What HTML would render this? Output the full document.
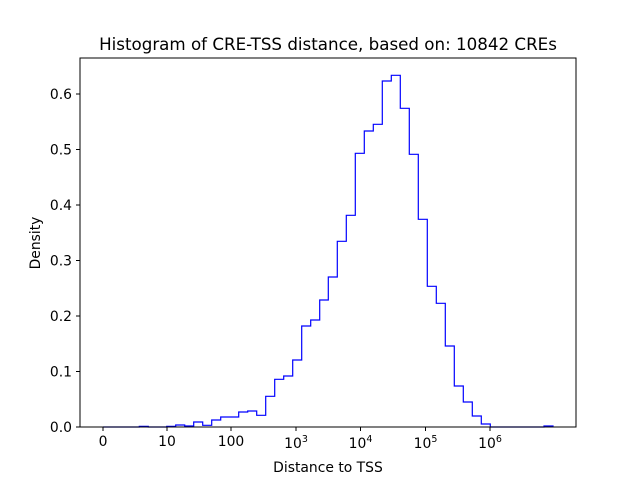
<!DOCTYPE html>
<html><head><meta charset="utf-8"><style>body{margin:0;background:#fff}</style></head><body>
<svg width="640" height="480" xmlns="http://www.w3.org/2000/svg" font-family="DejaVu Sans, Liberation Sans, sans-serif" font-size="13.9">
<rect width="640" height="480" fill="#fff"/>
<path fill="none" stroke="#0000ff" stroke-width="1.2" d="M103,427 H139.3 V426.3 H148.3 V427 H166.7 V426.3 H175.7 V425 H184.7 V426 H193.7 V422 H202.7 V425.3 H211.7 V420 H220.7 V417 H238.7 V412 H247.7 V411 H256.7 V415.3 H265.7 V396.3 H274.7 V379.3 H283.7 V376 H292.7 V360 H301.7 V326 H310.7 V320 H319.7 V300 H328.3 V277 H337.3 V241.3 H346.3 V215.3 H355.3 V153.3 H364.3 V131 H373.3 V124.3 H382.3 V81 H391.3 V75.3 H400.3 V108.3 H409.3 V154.3 H418.3 V219.3 H427.3 V286.3 H436.3 V303.3 H445.3 V346 H454.3 V386 H463.3 V402 H472.3 V416 H481.3 V424 H490.3 V427 H544 V426 H553 V427"/>
<rect x="80" y="58" width="496" height="369" fill="none" stroke="#000" stroke-width="1"/>
<g stroke="#000">
<line x1="80" y1="427" x2="76" y2="427"/><line x1="80" y1="371.5" x2="76" y2="371.5"/><line x1="80" y1="316" x2="76" y2="316"/><line x1="80" y1="260.5" x2="76" y2="260.5"/><line x1="80" y1="205" x2="76" y2="205"/><line x1="80" y1="149.5" x2="76" y2="149.5"/><line x1="80" y1="94" x2="76" y2="94"/>
<line x1="103" y1="427" x2="103" y2="431"/><line x1="167" y1="427" x2="167" y2="431"/><line x1="231" y1="427" x2="231" y2="431"/><line x1="296" y1="427" x2="296" y2="431"/><line x1="360.5" y1="427" x2="360.5" y2="431"/><line x1="425.5" y1="427" x2="425.5" y2="431"/><line x1="490" y1="427" x2="490" y2="431"/>
</g>
<g text-anchor="end">
<text x="72" y="432">0.0</text><text x="72" y="376.5">0.1</text><text x="72" y="321">0.2</text><text x="72" y="265.5">0.3</text><text x="72" y="210">0.4</text><text x="72" y="154.5">0.5</text><text x="72" y="99">0.6</text>
</g>
<g text-anchor="middle">
<text x="103" y="446">0</text><text x="167" y="446">10</text><text x="231" y="446">100</text>
<text x="296" y="448">10<tspan font-size="9.5" dy="-6">3</tspan></text>
<text x="360.5" y="448">10<tspan font-size="9.5" dy="-6">4</tspan></text>
<text x="425.5" y="448">10<tspan font-size="9.5" dy="-6">5</tspan></text>
<text x="490" y="448">10<tspan font-size="9.5" dy="-6">6</tspan></text>
<text x="328" y="472">Distance to TSS</text>
<text x="328" y="50" font-size="16.7">Histogram of CRE-TSS distance, based on: 10842 CREs</text>
<text transform="translate(40,243) rotate(-90)">Density</text>
</g>
</svg>
</body></html>
